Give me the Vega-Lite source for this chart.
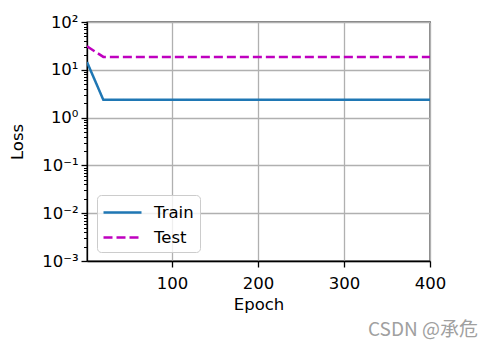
{
  "$schema": "https://vega.github.io/schema/vega-lite/v6.json",
  "width": 343,
  "height": 239,
  "autosize": {"type": "none"},
  "padding": {"left": 87, "top": 22, "right": 64, "bottom": 90},
  "background": "white",
  "config": {
    "view": {"stroke": "black", "strokeWidth": 1.3},
    "font": "DejaVu Sans",
    "axis": {
      "labelFont": "DejaVu Sans",
      "titleFont": "DejaVu Sans",
      "labelFontSize": 16.5,
      "titleFontSize": 16.5,
      "titleFontWeight": "normal",
      "labelColor": "black",
      "titleColor": "black",
      "domainColor": "black",
      "domainWidth": 1.3,
      "tickColor": "black",
      "tickWidth": 1.3,
      "tickSize": 6,
      "gridColor": "#b0b0b0",
      "gridWidth": 1.3
    }
  },
  "title": {
    "text": "CSDN @承危",
    "orient": "bottom",
    "anchor": "end",
    "frame": "group",
    "dx": 48,
    "offset": 8,
    "font": "Noto Sans CJK SC",
    "fontSize": 19,
    "fontWeight": "normal",
    "color": "#a0a0a0"
  },
  "data": {
    "values": [
      {"epoch": 1, "loss": 14.5, "series": "Train"},
      {"epoch": 20, "loss": 2.35, "series": "Train"},
      {"epoch": 40, "loss": 2.35, "series": "Train"},
      {"epoch": 60, "loss": 2.35, "series": "Train"},
      {"epoch": 80, "loss": 2.35, "series": "Train"},
      {"epoch": 100, "loss": 2.35, "series": "Train"},
      {"epoch": 120, "loss": 2.35, "series": "Train"},
      {"epoch": 140, "loss": 2.35, "series": "Train"},
      {"epoch": 160, "loss": 2.35, "series": "Train"},
      {"epoch": 180, "loss": 2.35, "series": "Train"},
      {"epoch": 200, "loss": 2.35, "series": "Train"},
      {"epoch": 220, "loss": 2.35, "series": "Train"},
      {"epoch": 240, "loss": 2.35, "series": "Train"},
      {"epoch": 260, "loss": 2.35, "series": "Train"},
      {"epoch": 280, "loss": 2.35, "series": "Train"},
      {"epoch": 300, "loss": 2.35, "series": "Train"},
      {"epoch": 320, "loss": 2.35, "series": "Train"},
      {"epoch": 340, "loss": 2.35, "series": "Train"},
      {"epoch": 360, "loss": 2.35, "series": "Train"},
      {"epoch": 380, "loss": 2.35, "series": "Train"},
      {"epoch": 400, "loss": 2.35, "series": "Train"},
      {"epoch": 1, "loss": 31, "series": "Test"},
      {"epoch": 20, "loss": 18.6, "series": "Test"},
      {"epoch": 40, "loss": 18.6, "series": "Test"},
      {"epoch": 60, "loss": 18.6, "series": "Test"},
      {"epoch": 80, "loss": 18.6, "series": "Test"},
      {"epoch": 100, "loss": 18.6, "series": "Test"},
      {"epoch": 120, "loss": 18.6, "series": "Test"},
      {"epoch": 140, "loss": 18.6, "series": "Test"},
      {"epoch": 160, "loss": 18.6, "series": "Test"},
      {"epoch": 180, "loss": 18.6, "series": "Test"},
      {"epoch": 200, "loss": 18.6, "series": "Test"},
      {"epoch": 220, "loss": 18.6, "series": "Test"},
      {"epoch": 240, "loss": 18.6, "series": "Test"},
      {"epoch": 260, "loss": 18.6, "series": "Test"},
      {"epoch": 280, "loss": 18.6, "series": "Test"},
      {"epoch": 300, "loss": 18.6, "series": "Test"},
      {"epoch": 320, "loss": 18.6, "series": "Test"},
      {"epoch": 340, "loss": 18.6, "series": "Test"},
      {"epoch": 360, "loss": 18.6, "series": "Test"},
      {"epoch": 380, "loss": 18.6, "series": "Test"},
      {"epoch": 400, "loss": 18.6, "series": "Test"}
    ]
  },
  "mark": {"type": "line", "strokeWidth": 2.5, "clip": true},
  "encoding": {
    "x": {
      "field": "epoch",
      "type": "quantitative",
      "scale": {"domain": [1, 400], "nice": false, "zero": false},
      "axis": {
        "title": "Epoch",
        "values": [100, 200, 300, 400],
        "grid": true,
        "labelPadding": 8,
        "titlePadding": 5,
        "labelFlush": false
      }
    },
    "y": {
      "field": "loss",
      "type": "quantitative",
      "scale": {"type": "log", "domain": [0.001, 100], "nice": false},
      "axis": {
        "title": "Loss",
        "values": [0.001, 0.002, 0.003, 0.004, 0.005, 0.006, 0.007, 0.008, 0.009, 0.01, 0.02, 0.03, 0.04, 0.05, 0.06, 0.07, 0.08, 0.09, 0.1, 0.2, 0.3, 0.4, 0.5, 0.6, 0.7, 0.8, 0.9, 1, 2, 3, 4, 5, 6, 7, 8, 9, 10, 20, 30, 40, 50, 60, 70, 80, 90, 100],
        "grid": true,
        "gridOpacity": {"condition": {"test": "abs(log(datum.value)/LN10 - round(log(datum.value)/LN10)) < 0.001", "value": 1}, "value": 0},
        "tickSize": {"condition": {"test": "abs(log(datum.value)/LN10 - round(log(datum.value)/LN10)) < 0.001", "value": 6}, "value": 3.5},
        "tickWidth": {"condition": {"test": "abs(log(datum.value)/LN10 - round(log(datum.value)/LN10)) < 0.001", "value": 1.3}, "value": 1},
        "labelPadding": 3,
        "titlePadding": 16,
        "labelFlush": false,
        "labelOverlap": false,
        "labelExpr": "abs(log(datum.value)/LN10 - round(log(datum.value)/LN10)) >= 0.001 ? '' : round(log(datum.value)/LN10) == 2 ? '10²' : round(log(datum.value)/LN10) == 1 ? '10¹' : round(log(datum.value)/LN10) == 0 ? '10⁰' : round(log(datum.value)/LN10) == -1 ? '10⁻¹' : round(log(datum.value)/LN10) == -2 ? '10⁻²' : '10⁻³'"
      }
    },
    "color": {
      "field": "series",
      "type": "nominal",
      "sort": ["Train", "Test"],
      "scale": {"domain": ["Train", "Test"], "range": ["#1f77b4", "#bf00bf"]},
      "legend": {
        "title": null,
        "orient": "none",
        "legendX": 10,
        "legendY": 173,
        "fillColor": "rgba(255,255,255,0.8)",
        "strokeColor": "#cccccc",
        "cornerRadius": 4,
        "padding": 6,
        "rowPadding": 5,
        "symbolType": "M-1.9,0H1.9",
        "symbolSize": 400,
        "symbolStrokeWidth": 2.5,
        "symbolOffset": 8,
        "labelOffset": 20,
        "labelFont": "DejaVu Sans",
        "labelFontSize": 16.5,
        "labelColor": "black"
      }
    },
    "strokeDash": {
      "field": "series",
      "type": "nominal",
      "sort": ["Train", "Test"],
      "scale": {"domain": ["Train", "Test"], "range": [[1, 0], [9, 4]]},
      "legend": null
    }
  }
}
